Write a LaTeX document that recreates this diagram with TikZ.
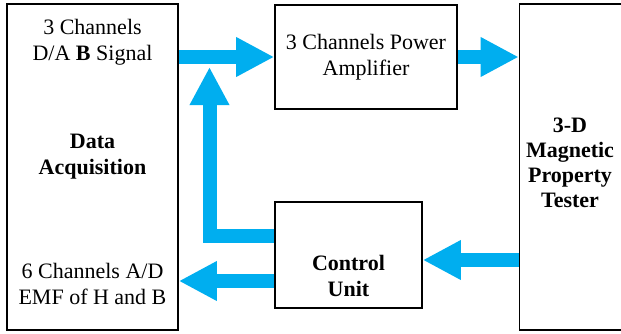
\documentclass[tikz,border=0pt]{standalone}
\usepackage{fontspec}
\setmainfont{Liberation Serif}
\usetikzlibrary{arrows.meta,calc}
\definecolor{flowcyan}{HTML}{00AEEF}

\begin{document}
\begin{tikzpicture}[x=1pt,y=-1pt,
  font=\fontsize{22}{26}\selectfont,
  box/.style={draw=black,line width=1.6pt,fill=white,inner sep=0pt},
  label/.style={align=center,inner sep=0pt},
  flow/.style={-{Triangle[length=38pt,width=37pt]},draw=flowcyan,line width=14pt,line join=miter}
]
% pixel frame of the 621 x 333 reference, y grows downwards
\path[use as bounding box] (0,0) rectangle (621,333);

\node[box,minimum width=171pt,minimum height=326pt] (daq) at (92.5,167) {};
\node[label] (daqtop) at (92.5,42) {3 Channels\\D/A \textbf{B} Signal};
\node[label,font=\bfseries\fontsize{22}{26}\selectfont] (daqmid) at (92.5,156.5) {Data\\Acquisition};
\node[label] (daqbot) at (92.5,284) {6 Channels A/D\\EMF of H and B};

\node[box,minimum width=182pt,minimum height=104pt] (amp) at (366,57)
  {\begin{tabular}{@{}c@{}}3 Channels Power\\Amplifier\end{tabular}};
\node[box,minimum width=130pt,minimum height=326pt] (tester) at (584.5,167) {};
\node[label,font=\bfseries\fontsize{22}{25}\selectfont] (testertxt) at (570,162.5) {3-D\\Magnetic\\Property\\Tester};
\node[box,minimum width=147pt,minimum height=106pt] (ctrl) at (348.5,255) {};
\node[label,font=\bfseries\fontsize{22}{26}\selectfont] (ctrltxt) at (348.5,276) {Control\\Unit};

\coordinate (join) at (209.5,67);
\coordinate (inC) at ([yshift=-5pt]ctrl.east);
\coordinate (outC) at ([yshift=-26pt]ctrl.west);
\coordinate (upC) at ([yshift=19pt]ctrl.west);

\draw[flow] (daq.east |- amp.west) -- (amp.west);
\draw[flow] (amp.east) -- (amp.east -| tester.west);
\draw[flow] (upC) -| (join);
\draw[flow] (inC -| tester.west) -- (inC);
\draw[flow] (outC) -- (outC -| daq.east);
\end{tikzpicture}
\end{document}
